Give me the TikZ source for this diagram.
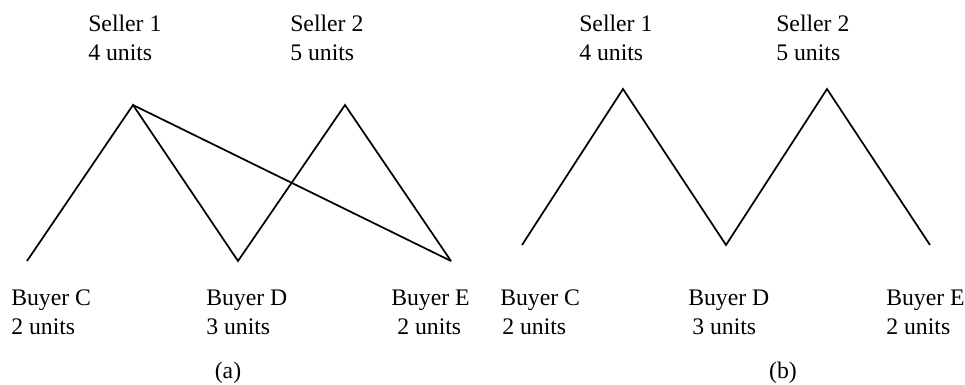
\documentclass[tikz,border=0pt]{standalone}
\usepackage{fontspec}
\setmainfont{Liberation Serif}
\usetikzlibrary{positioning}

\begin{document}
\begin{tikzpicture}[
  x=0.75pt, y=-0.75pt,
  lbl/.style={anchor=base west, align=left, inner sep=0pt,
    font=\fontsize{17.8}{21.75}\selectfont},
  panel/.style={anchor=base, inner sep=0pt, font=\fontsize{17.8}{21.75}\selectfont},
  link/.style={line width=1.3pt, draw=black, line join=miter}
]
  \useasboundingbox (0,0) rectangle (965,385);

  % (a): vertices
  \coordinate (a-s1) at (133,105);
  \coordinate (a-s2) at (345,105);
  \coordinate (a-c) at (27,261);
  \coordinate (a-d) at (238,261);
  \coordinate (a-e) at (451,261);

  % (a): labels (base = second line)
  \node[lbl] (a-s1-lbl) at (88,61) {Seller 1\\4 units};
  \node[lbl] (a-s2-lbl) at (290,61) {Seller 2\\5 units};
  \node[lbl] (a-c-lbl) at (11,334) {Buyer C\\2 units};
  \node[lbl] (a-d-lbl) at (206,334) {Buyer D\\3 units};
  \node[lbl] (a-e-lbl) at (391,334) {Buyer E\\\hspace*{4.5pt}2 units};
  \node[panel] (a-panel) at (228,378) {(a)};

  % (a): trades
  \draw[link] (a-c) -- (a-s1) -- (a-d) -- (a-s2) -- (a-e);
  \draw[link] (a-s1) -- (a-e);

  % (b): vertices
  \coordinate (b-s1) at (623,89);
  \coordinate (b-s2) at (827,89);
  \coordinate (b-c) at (522,245);
  \coordinate (b-d) at (726,245);
  \coordinate (b-e) at (930,245);

  % (b): labels
  \node[lbl] (b-s1-lbl) at (579,61) {Seller 1\\4 units};
  \node[lbl] (b-s2-lbl) at (776,61) {Seller 2\\5 units};
  \node[lbl] (b-c-lbl) at (500,334) {Buyer C\\\hspace*{1.5pt}2 units};
  \node[lbl] (b-d-lbl) at (688,334) {Buyer D\\\hspace*{3pt}3 units};
  \node[lbl] (b-e-lbl) at (886,334) {Buyer E\\2 units};
  \node[panel] (b-panel) at (783,378) {(b)};

  % (b): trades
  \draw[link] (b-c) -- (b-s1) -- (b-d) -- (b-s2) -- (b-e);

\end{tikzpicture}
\end{document}
